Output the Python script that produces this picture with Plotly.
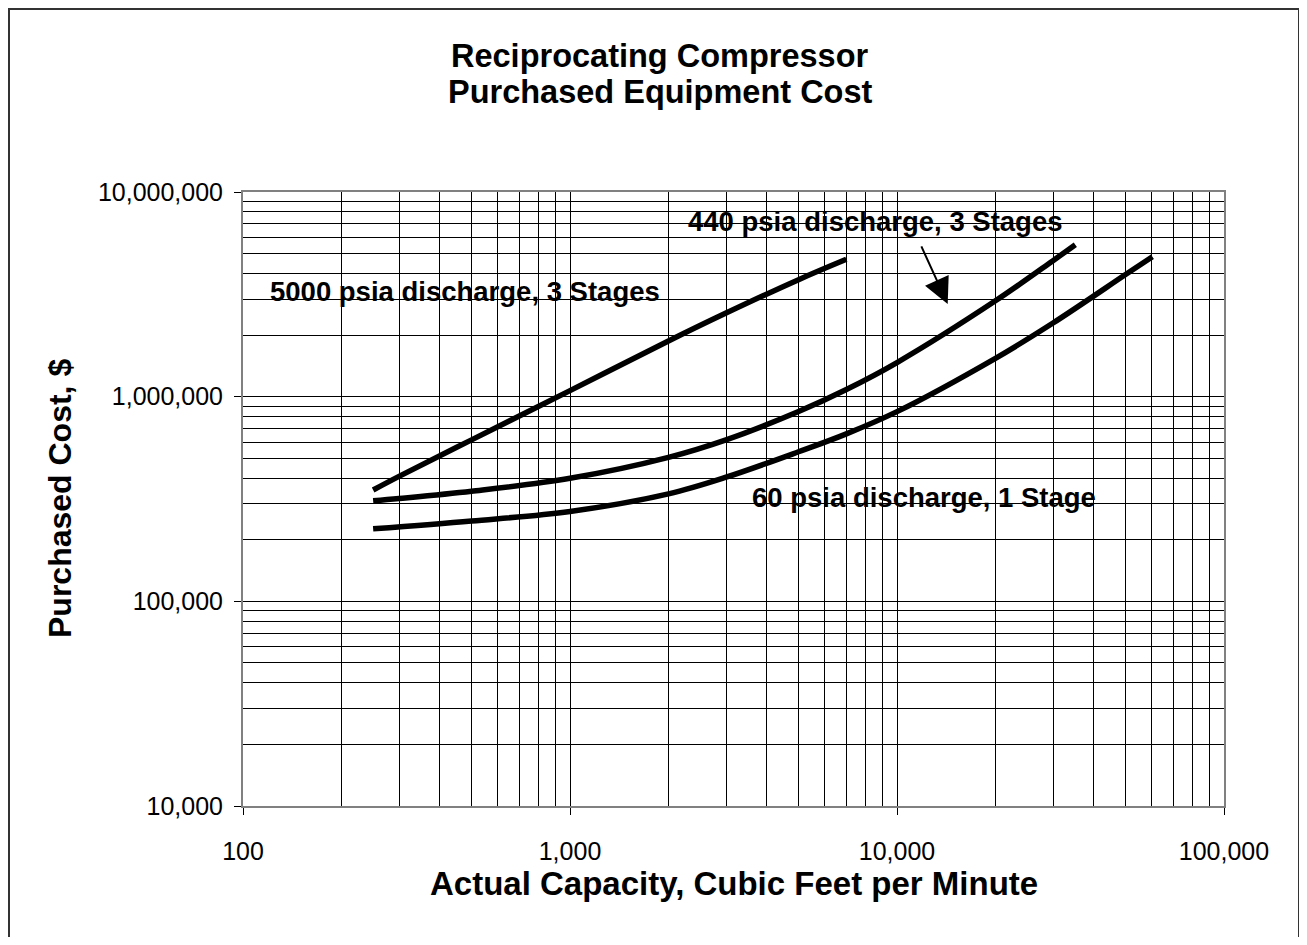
import plotly.graph_objects as go

# Capacity (actual cubic feet per minute) and purchased cost ($)
x_5000 = [250, 300, 500, 1000, 2000, 3000, 5000, 7000]
y_5000 = [350000, 408000, 615000, 1070000, 1870000, 2560000, 3730000, 4690000]

x_440 = [250, 300, 500, 1000, 2000, 3000, 5000, 7000, 10000, 20000, 30000, 35100]
y_440 = [310000, 318000, 345000, 399000, 505000, 615000, 846000, 1084000, 1468000, 2940000, 4620000, 5530000]

x_60 = [250, 500, 1000, 2000, 3000, 5000, 7000, 10000, 20000, 30000, 50000, 60400]
y_60 = [226000, 247000, 275000, 335000, 404000, 538000, 658000, 845000, 1540000, 2290000, 3950000, 4830000]

x_tickvals = [100, 1000, 10000, 100000]
x_ticktext = ["100", "1,000", "10,000", "100,000"]
y_tickvals = [10000, 100000, 1000000, 10000000]
y_ticktext = ["10,000", "100,000", "1,000,000", "10,000,000"]

x_minor = [m * d for d in [100, 1000, 10000] for m in range(2, 10)]
y_minor = [m * d for d in [10000, 100000, 1000000] for m in range(2, 10)]

FONT = "Liberation Sans, Arial, sans-serif"

# figure is placed at page offset (8, 8) by the default body margin
W, H = 1291, 929
L, T = 235, 184
R = W - 1216
B = H - 798
PW, PH = W - L - R, H - T - B


def px_x(p):
    return (p - L) / PW


def px_y(p):
    return (H - B - p) / PH


fig = go.Figure()
for xs, ys, name in [(x_5000, y_5000, "5000 psia"), (x_440, y_440, "440 psia"), (x_60, y_60, "60 psia")]:
    fig.add_trace(go.Scatter(x=xs, y=ys, mode="lines", name=name,
                             line=dict(color="black", width=5.5, shape="spline", smoothing=1.0)))

axis_common = dict(
    type="log", showgrid=True, gridcolor="black", gridwidth=1,
    showline=True, linecolor="#808080", linewidth=2, mirror=True,
    ticks="outside", ticklen=7, tickcolor="black", tickwidth=1,
    tickfont=dict(family=FONT, size=25, color="black"),
    zeroline=False,
)

fig.update_xaxes(range=[2, 5], tickvals=x_tickvals, ticktext=x_ticktext,
                 minor=dict(tickvals=x_minor, showgrid=True, gridcolor="black", gridwidth=1, ticks=""),
                 ticklabelstandoff=15, **axis_common)
fig.update_yaxes(range=[4, 7], tickvals=y_tickvals, ticktext=y_ticktext,
                 minor=dict(tickvals=y_minor, showgrid=True, gridcolor="black", gridwidth=1, ticks=""),
                 ticklabelstandoff=6, **axis_common)

ann = []
title_font = dict(family=FONT, size=32.5, color="black")
ann.append(dict(text="<b>Reciprocating Compressor</b>", xref="paper", yref="paper", x=px_x(652), y=px_y(48),
                xanchor="center", yanchor="middle", showarrow=False, font=title_font))
ann.append(dict(text="<b>Purchased Equipment Cost</b>", xref="paper", yref="paper", x=px_x(652), y=px_y(84),
                xanchor="center", yanchor="middle", showarrow=False, font=title_font))
ann.append(dict(text="<b>Actual Capacity, Cubic Feet per Minute</b>", xref="paper", yref="paper", x=0.5, y=px_y(875),
                xanchor="center", yanchor="middle", showarrow=False, font=dict(family=FONT, size=33, color="black")))
ann.append(dict(text="<b>Purchased Cost, $</b>", xref="paper", yref="paper", x=px_x(52), y=0.5, textangle=-90,
                xanchor="center", yanchor="middle", showarrow=False, font=dict(family=FONT, size=32, color="black")))
# Series labels (log10 coordinates)
lab_font = dict(family=FONT, size=27.5, color="black")
ann.append(dict(text="<b>5000 psia discharge, 3 Stages</b>", x=2.0765, y=6.516, xanchor="left", yanchor="middle",
                showarrow=False, font=lab_font))
ann.append(dict(text="<b>440 psia discharge, 3 Stages</b>", x=4.514, y=6.858, xanchor="right", yanchor="middle",
                showarrow=False, font=lab_font))
ann.append(dict(text="<b>60 psia discharge, 1 Stage</b>", x=4.615, y=5.505, xanchor="right", yanchor="middle",
                showarrow=False, font=lab_font))
# Arrow pointing to the 440 psia curve
ann.append(dict(text="", x=4.155, y=6.453, ax=-27, ay=-59, showarrow=True, arrowhead=2, arrowsize=2.6,
                arrowwidth=2, arrowcolor="black", standoff=0))

fig.update_layout(
    width=W, height=H,
    margin=dict(l=L, r=R, t=T, b=B),
    paper_bgcolor="white", plot_bgcolor="white",
    showlegend=False,
    annotations=ann,
    shapes=[dict(type="rect", xref="paper", yref="paper", x0=px_x(1), x1=px_x(1291), y0=px_y(930), y1=px_y(1),
                 line=dict(color="#333333", width=2), layer="below")],
)

fig.write_html("out.html")
